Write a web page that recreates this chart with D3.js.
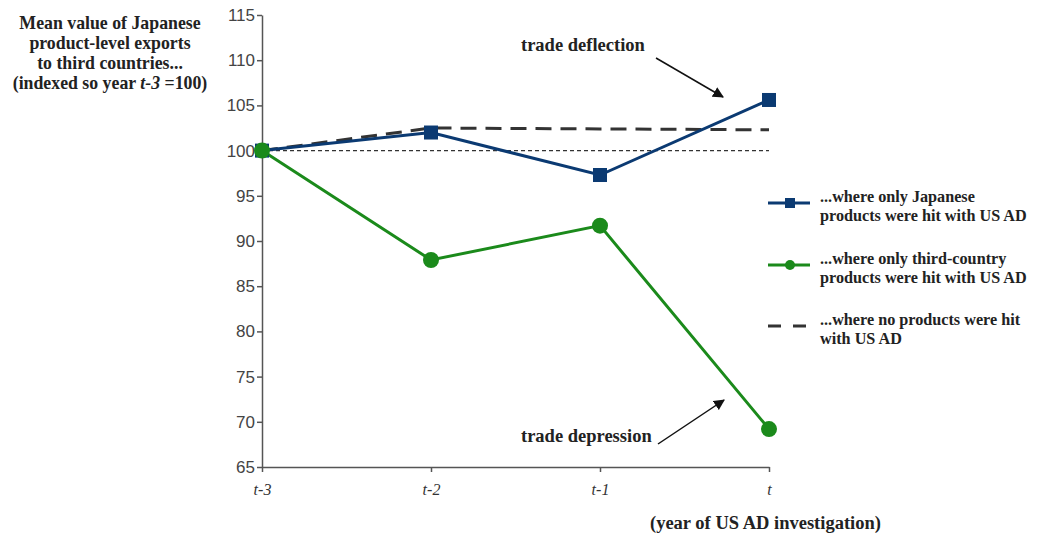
<!DOCTYPE html>
<html><head><meta charset="utf-8">
<script src="https://cdn.jsdelivr.net/npm/d3@7"></script>
<style>body{margin:0;background:#fff}</style>
</head><body>
<svg id="c" width="1038" height="537"></svg>
<script>
const categories = ["t-3", "t-2", "t-1", "t"];
const japanOnly = [100, 102.0, 97.3, 105.6];
const thirdOnly = [100, 87.9, 91.7, 69.2];
const noneHit = [100, 102.5, 102.4, 102.3];
const baseline = [100, 100, 100, 100];
const yTicks = [65, 70, 75, 80, 85, 90, 95, 100, 105, 110, 115];
const legendLabels = [
  ["...where only Japanese", "products were hit with US AD"],
  ["...where only third-country", "products were hit with US AD"],
  ["...where no products were hit", "with US AD"]
];
const yTitle = ["Mean value of Japanese", "product-level exports", "to third countries...", "(indexed so year ", "=100)"];

const svg = d3.select("#c");
const serif = "'Liberation Serif','Times New Roman',serif";
const sans = "'Liberation Sans',Arial,sans-serif";
const blue = "#0b3a72", green = "#1b8a1b", axisCol = "#555";

const x = d3.scalePoint().domain(categories).range([262, 769]);
const y = d3.scaleLinear().domain([65, 115]).range([467, 15]);

// axes
const yAxis = svg.append("g").attr("transform", "translate(262,0)")
  .call(d3.axisLeft(y).tickValues(yTicks).tickSize(5).tickSizeOuter(0).tickPadding(2));
yAxis.select(".domain").attr("stroke", axisCol).attr("stroke-width", 1.5);
yAxis.selectAll(".tick line").attr("stroke", axisCol).attr("stroke-width", 1.5);
yAxis.selectAll(".tick text").attr("font-family", sans).attr("font-size", 17).attr("fill", "#444");

const xAxis = svg.append("g").attr("transform", "translate(0,467)")
  .call(d3.axisBottom(x).tickSize(5).tickSizeOuter(0).tickPadding(12));
xAxis.select(".domain").attr("stroke", axisCol).attr("stroke-width", 1.5);
xAxis.selectAll(".tick line").attr("stroke", axisCol).attr("stroke-width", 1.5);
xAxis.selectAll(".tick text").attr("font-family", serif).attr("font-style", "italic").attr("font-size", 16).attr("fill", "#333");

const line = d3.line().x((d, i) => x(categories[i])).y(d => y(d));

// baseline dotted
svg.append("path").attr("d", line(baseline)).attr("fill", "none")
  .attr("stroke", "#333").attr("stroke-width", 1.3).attr("stroke-dasharray", "4,3");
// none hit dashed
svg.append("path").attr("d", line(noneHit)).attr("fill", "none")
  .attr("stroke", "#333").attr("stroke-width", 3).attr("stroke-dasharray", "16,9");
// blue
svg.append("path").attr("d", line(japanOnly)).attr("fill", "none")
  .attr("stroke", blue).attr("stroke-width", 3);
// green
svg.append("path").attr("d", line(thirdOnly)).attr("fill", "none")
  .attr("stroke", green).attr("stroke-width", 3);

svg.selectAll(".sq").data(japanOnly).enter().append("rect")
  .attr("x", (d, i) => x(categories[i]) - 7).attr("y", d => y(d) - 7)
  .attr("width", 14).attr("height", 14).attr("fill", blue);
svg.selectAll(".ci").data(thirdOnly).enter().append("circle")
  .attr("cx", (d, i) => x(categories[i])).attr("cy", d => y(d)).attr("r", 8).attr("fill", green);

// y title
const tt = svg.append("g").attr("font-family", serif).attr("font-weight", "bold").attr("font-size", 17.8).attr("fill", "#222").attr("text-anchor", "middle");
yTitle.slice(0, 3).forEach((s, i) => tt.append("text").attr("x", 110).attr("y", 29 + i * 20).text(s));
const last = tt.append("text").attr("x", 110).attr("y", 89);
last.append("tspan").text(yTitle[3]);
last.append("tspan").attr("font-style", "italic").text("t-3");
last.append("tspan").text(" " + yTitle[4]);

// x title
svg.append("text").attr("x", 650).attr("y", 529).attr("font-family", serif).attr("font-weight", "bold")
  .attr("font-size", 18.5).attr("fill", "#222").text("(year of US AD investigation)");

// annotations
svg.append("defs").append("marker").attr("id", "arr").attr("viewBox", "0 0 10 10").attr("refX", 9).attr("refY", 5)
  .attr("markerWidth", 11).attr("markerHeight", 11).attr("markerUnits", "userSpaceOnUse").attr("orient", "auto")
  .append("path").attr("d", "M0,0L10,5L0,10z").attr("fill", "#111");
svg.append("text").attr("x", 521).attr("y", 51).attr("font-family", serif).attr("font-weight", "bold")
  .attr("font-size", 18.5).attr("fill", "#222").text("trade deflection");
svg.append("line").attr("x1", 656).attr("y1", 58).attr("x2", 723).attr("y2", 97)
  .attr("stroke", "#111").attr("stroke-width", 1.5).attr("marker-end", "url(#arr)");
svg.append("text").attr("x", 521).attr("y", 442).attr("font-family", serif).attr("font-weight", "bold")
  .attr("font-size", 18.5).attr("fill", "#222").text("trade depression");
svg.append("line").attr("x1", 658).attr("y1", 444).attr("x2", 724).attr("y2", 400)
  .attr("stroke", "#111").attr("stroke-width", 1.5).attr("marker-end", "url(#arr)");

// legend
const lg = svg.append("g");
const ly = [203, 265, 326];
lg.append("line").attr("x1", 768).attr("x2", 810).attr("y1", ly[0]).attr("y2", ly[0]).attr("stroke", blue).attr("stroke-width", 3);
lg.append("rect").attr("x", 785).attr("y", ly[0] - 5).attr("width", 10).attr("height", 10).attr("fill", blue);
lg.append("line").attr("x1", 768).attr("x2", 810).attr("y1", ly[1]).attr("y2", ly[1]).attr("stroke", green).attr("stroke-width", 3);
lg.append("circle").attr("cx", 790).attr("cy", ly[1]).attr("r", 5).attr("fill", green);
lg.append("line").attr("x1", 768).attr("x2", 812).attr("y1", ly[2]).attr("y2", ly[2]).attr("stroke", "#333").attr("stroke-width", 3).attr("stroke-dasharray", "13,12");
legendLabels.forEach((ls, i) => {
  ls.forEach((s, j) => lg.append("text").attr("x", 820).attr("y", ly[i] - 1 + j * 19)
    .attr("font-family", serif).attr("font-weight", "bold").attr("font-size", 16.2).attr("fill", "#222").text(s));
});
</script>
</body></html>
